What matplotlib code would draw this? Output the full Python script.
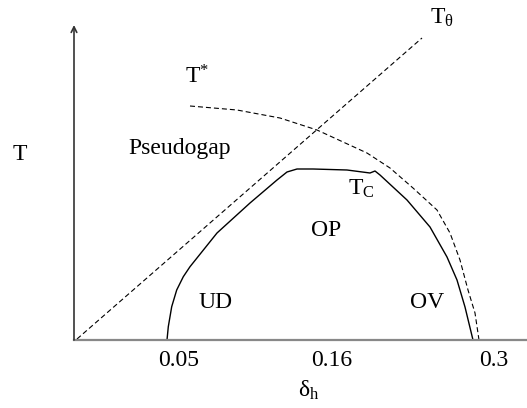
import matplotlib
matplotlib.use("Agg")
import matplotlib.pyplot as plt

plt.rcParams['font.family'] = ['Liberation Serif', 'DejaVu Serif']
plt.rcParams['mathtext.fontset'] = 'custom'
plt.rcParams['mathtext.rm'] = 'Liberation Serif'
plt.rcParams['mathtext.it'] = 'Liberation Serif:italic'
plt.rcParams['mathtext.bf'] = 'Liberation Serif:bold'

# Schematic coordinates (arbitrary units along the doping / temperature axes)
tc_x = [93, 94.3, 97.7, 102.7, 109.3, 116, 143, 176, 203, 213, 223, 239, 273, 296, 301, 306, 333, 356, 373, 383, 391, 399]
tc_y = [0, 13.3, 33.3, 50, 63.3, 73.3, 107, 137, 160, 168, 171, 171, 170, 167, 169, 165, 140, 113, 83, 60, 33, 0]

tstar_x = [116, 163, 206, 243, 293, 316, 339, 363, 376, 386, 394, 401, 405]
tstar_y = [234, 230, 222, 210, 187, 172, 152, 130, 107, 80, 50, 27, 0]

ttheta_x = [3, 348]
ttheta_y = [1, 302]

tick_pos = [105, 258, 420]
tick_labels = ['0.05', '0.16', '0.3']

W, H = 527, 408
fig = plt.figure(figsize=(W / 100, H / 100), dpi=100)
ax = fig.add_axes([74 / W, (H - 340) / H, 453 / W, 315 / H])
ax.set_xlim(0, 453)
ax.set_ylim(0, 315)

for s in ['top', 'right', 'left']:
    ax.spines[s].set_visible(False)
ax.spines['bottom'].set_color('#888888')
ax.spines['bottom'].set_linewidth(1.6)
ax.set_yticks([])
ax.set_xticks(tick_pos)
ax.set_xticklabels(tick_labels, fontsize=17)
ax.tick_params(axis='x', length=0, pad=7)

ax.annotate('', xy=(0, 1), xytext=(0, 0), xycoords='axes fraction',
            arrowprops=dict(arrowstyle='->', color='#333333', lw=1.2,
                            shrinkA=0, shrinkB=0), annotation_clip=False)

ax.plot(tc_x, tc_y, color='black', lw=1.0, solid_joinstyle='round')
ax.plot(tstar_x, tstar_y, color='black', lw=0.8, linestyle=(0, (4.5, 2.7)))
ax.plot(ttheta_x, ttheta_y, color='black', lw=0.8, linestyle=(0, (4.5, 2.7)))

fs = 17
ax.text(-54, 186, 'T', fontsize=fs, ha='center', va='center', clip_on=False)
ax.text(111, 257, r'$\mathrm{T}^{*}$', fontsize=fs, ha='left', va='baseline')
ax.text(106, 186, 'Pseudogap', fontsize=fs, ha='center', va='baseline')
ax.text(356, 316, r'$\mathrm{T}_{\mathrm{\theta}}$', fontsize=fs, ha='left', va='baseline', clip_on=False)
ax.text(274, 145, r'$\mathrm{T}_{\mathrm{C}}$', fontsize=fs, ha='left', va='baseline')
ax.text(252, 110, 'OP', fontsize=fs, ha='center', va='center')
ax.text(142, 37, 'UD', fontsize=fs, ha='center', va='center')
ax.text(353, 37, 'OV', fontsize=fs, ha='center', va='center')
ax.text(224, -57, r'$\mathrm{\delta}_{\mathrm{h}}$', fontsize=fs, ha='left', va='baseline', clip_on=False)

fig.savefig('out.png', dpi=100)
